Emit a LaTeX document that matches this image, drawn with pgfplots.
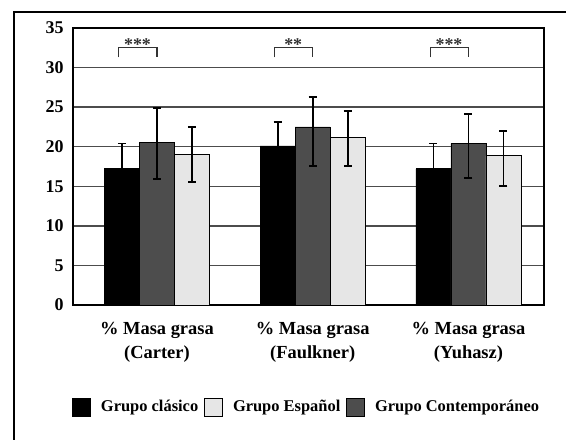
\documentclass[border=0pt]{standalone}
\usepackage{pgfplots}
\pgfplotsset{compat=1.18}
\usepackage{fontspec}
\setmainfont{Liberation Serif}
\definecolor{darkbar}{HTML}{4D4D4D}
\definecolor{lightbar}{HTML}{E6E6E6}
\begin{document}
\begin{tikzpicture}[x=1bp,y=1bp]
\useasboundingbox (-73,-135) rectangle (493,305);
\draw[line width=1.5bp] (-59,-140) -- (-59,293) -- (498,293);
\begin{axis}[at={(0,0)}, anchor=south west, scale only axis,
  width=471bp, height=277bp,
  xmin=-0.539, xmax=2.485, ymin=0, ymax=35,
  ytick={0,5,...,35}, xtick={0,1,2},
  xticklabels={{\% Masa grasa\\(Carter)},{\% Masa grasa\\(Faulkner)},{\% Masa grasa\\(Yuhasz)}},
  major tick length=0pt,
  /pgf/number format/assume math mode=true,
  yticklabel style={font=\fontsize{18}{18}\selectfont\bfseries, xshift=-6bp},
  xticklabel style={font=\fontsize{18.5}{23.5}\selectfont\bfseries, align=center, anchor=north, yshift=-14bp},
  ymajorgrids, major grid style={black!70, line width=1.5bp},
  axis line style={line width=1.4bp, black},
  legend style={at={(0.496,-0.368)}, anchor=center, draw=none, fill=none,
    font=\fontsize{16.5}{18}\selectfont\bfseries, legend columns=3,
    /tikz/every even column/.append style={column sep=4bp},
    /tikz/every odd column/.append style={column sep=8bp}},
  legend image code/.code={\draw[#1, line width=0.8bp] (0bp,-9bp) rectangle (18bp,9bp);},
  error bars/error bar style={line width=1.9bp, black},
  error bars/error mark options={rotate=90, mark size=4bp, line width=1.9bp, black},
]
% Grupo clasico (x already includes the bar offset of -0.2247)
\addplot[ybar, bar width=35bp, bar shift=0bp, fill=black, draw=black, line width=0.8bp, forget plot,
  error bars/.cd, y dir=both, y explicit]
  table[x=x, y=y, y error plus=ep, y error minus=em] {
x y ep em
-0.2247 17.2 3.2 3.2
0.7753 20.1 3.0 3.0
1.7753 17.2 3.2 3.2
};
% Grupo contemporaneo
\addplot[ybar, bar width=35bp, bar shift=0bp, fill=darkbar, draw=black, line width=0.8bp, forget plot,
  error bars/.cd, y dir=both, y explicit]
  table[x=x, y=y, y error plus=ep, y error minus=em] {
x y ep em
0 20.55 4.35 4.6
1 22.5 3.8 4.9
2 20.4 3.7 4.4
};
% Grupo espanol
\addplot[ybar, bar width=35bp, bar shift=0bp, fill=lightbar, draw=black, line width=0.8bp, forget plot,
  error bars/.cd, y dir=both, y explicit]
  table[x=x, y=y, y error plus=ep, y error minus=em] {
x y ep em
0.2247 19.05 3.45 3.5
1.2247 21.2 3.35 3.6
2.2247 18.85 3.1 3.8
};
% brackets
\addplot[black!80, line width=1.3bp, forget plot, mark=none] coordinates {(-0.245,31.3) (-0.245,32.5) (0,32.5) (0,31.3)};
\addplot[black!80, line width=1.3bp, forget plot, mark=none] coordinates {(0.755,31.3) (0.755,32.5) (1,32.5) (1,31.3)};
\addplot[black!80, line width=1.3bp, forget plot, mark=none] coordinates {(1.755,31.3) (1.755,32.5) (2,32.5) (2,31.3)};
\node[anchor=base, font=\fontsize{18}{18}\selectfont\bfseries, text=black!80] at (axis cs:-0.125,32.2) {***};
\node[anchor=base, font=\fontsize{18}{18}\selectfont\bfseries, text=black!80] at (axis cs:0.875,32.2) {**};
\node[anchor=base, font=\fontsize{18}{18}\selectfont\bfseries, text=black!80] at (axis cs:1.875,32.2) {***};
\addlegendimage{fill=black, draw=black}
\addlegendentry{Grupo clásico}
\addlegendimage{fill=lightbar, draw=black}
\addlegendentry{Grupo Español}
\addlegendimage{fill=darkbar, draw=black}
\addlegendentry{Grupo Contemporáneo}
\end{axis}
\end{tikzpicture}
\end{document}
